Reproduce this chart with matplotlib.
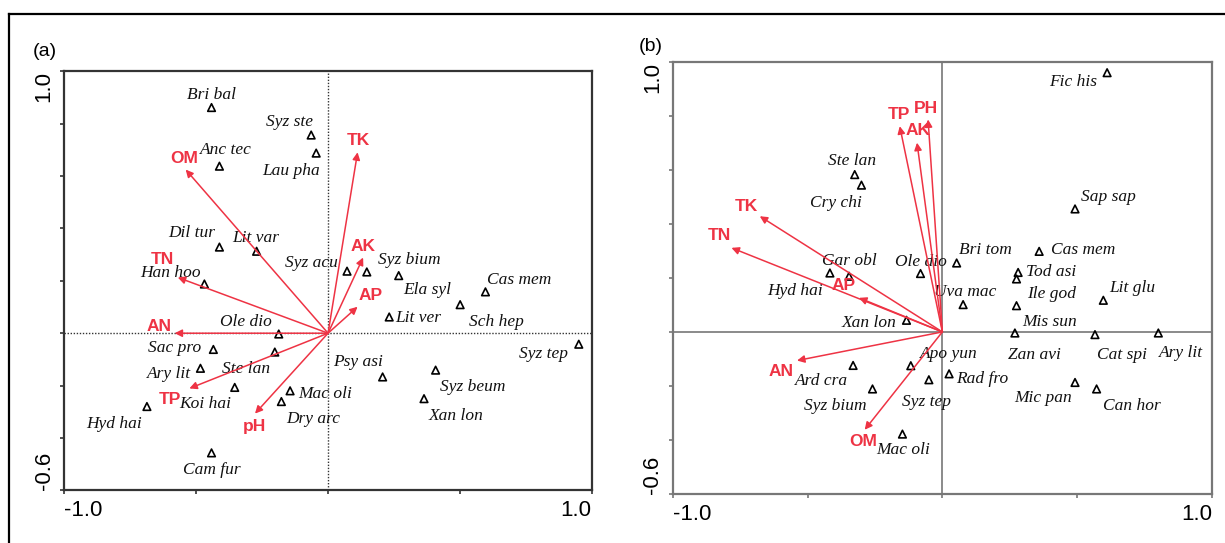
import numpy as np
import matplotlib.pyplot as plt
from matplotlib.lines import Line2D

# ---- panel (a) data ----
spp_a = ['Bri bal', 'Syz ste', 'Lau pha', 'Anc tec', 'Dil tur', 'Lit var', 'Han hoo',
         'Syz acu', 'Syz bium', 'Ela syl', 'Cas mem', 'Sch hep', 'Lit ver', 'Ole dio',
         'Sac pro', 'Ste lan', 'Ary lit', 'Psy asi', 'Syz tep', 'Koi hai', 'Mac oli',
         'Dry arc', 'Syz beum', 'Xan lon', 'Hyd hai', 'Cam fur']
sx_a = [-0.442, -0.064, -0.045, -0.412, -0.412, -0.271, -0.469, 0.072, 0.147, 0.268,
        0.597, 0.501, 0.232, -0.187, -0.435, -0.202, -0.484, 0.207, 0.951, -0.354,
        -0.144, -0.177, 0.408, 0.364, -0.687, -0.442]
sy_a = [0.862, 0.757, 0.688, 0.638, 0.329, 0.313, 0.188, 0.237, 0.234, 0.220,
        0.158, 0.109, 0.062, -0.003, -0.062, -0.072, -0.134, -0.167, -0.042, -0.207,
        -0.220, -0.261, -0.141, -0.250, -0.280, -0.457]
env_a = ['OM', 'TK', 'AK', 'AP', 'TN', 'AN', 'TP', 'pH']
ex_a = [-0.540, 0.112, 0.133, 0.112, -0.570, -0.582, -0.526, -0.277]
ey_a = [0.625, 0.691, 0.289, 0.101, 0.213, 0.0, -0.211, -0.307]

# ---- panel (b) data ----
spp_b = ['Fic his', 'Ste lan', 'Cry chi', 'Sap sap', 'Bri tom', 'Cas mem', 'Ole dio',
         'Gar obl', 'Hyd hai', 'Uva mac', 'Tod asi', 'Ile god', 'Mis sun', 'Zan avi',
         'Lit glu', 'Cat spi', 'Ary lit', 'Mic pan', 'Can hor', 'Rad fro', 'Apo yun',
         'Syz tep', 'Ard cra', 'Syz bium', 'Mac oli', 'Xan lon']
sx_b = [0.611, -0.325, -0.300, 0.492, 0.053, 0.359, -0.081, -0.346, -0.417, 0.077,
        0.281, 0.275, 0.275, 0.269, 0.597, 0.566, 0.801, 0.492, 0.572, 0.025,
        -0.117, -0.050, -0.331, -0.259, -0.148, -0.133]
sy_b = [0.959, 0.582, 0.543, 0.455, 0.255, 0.298, 0.216, 0.206, 0.218, 0.101,
        0.220, 0.196, 0.097, -0.004, 0.117, -0.010, -0.004, -0.187, -0.211, -0.155,
        -0.125, -0.177, -0.124, -0.211, -0.378, 0.043]
env_b = ['TP', 'AK', 'PH', 'TK', 'TN', 'AP', 'AN', 'OM']
ex_b = [-0.158, -0.094, -0.053, -0.677, -0.782, -0.309, -0.539, -0.288]
ey_b = [0.761, 0.700, 0.786, 0.428, 0.311, 0.126, -0.106, -0.362]

# label offsets in pixels (dx right, dy down)
off_spp_a = [(0, -13), (-22, -13), (-25, 18), (6, -16), (-28, -14), (-1, -13), (-34, -11),
             (-36, -8), (42, -12), (28, 14), (34, -12), (36, 17), (29, 1), (-33, -12),
             (-39, -1), (-29, 17), (-31, 6), (-25, -15), (-35, 10), (-30, 17), (35, 3),
             (32, 17), (37, 17), (32, 17), (-33, 17), (0, 17)]
off_env_a = [(-1, -11), (1, -12), (0, -11), (13, -11), (-15, -18), (-16, -7), (-19, 11), (-1, 13)]
off_spp_b = [(-34, 9), (-3, -14), (-26, 18), (33, -12), (29, -13), (44, -1), (0, -12),
             (0, -15), (-35, 18), (2, -13), (33, 0), (35, 15), (33, 16), (20, 22),
             (29, -12), (27, 20), (23, 20), (-32, 16), (35, 17), (33, 5), (38, -12),
             (-2, 22), (-32, 16), (-37, 17), (1, 16), (-37, 3)]
off_env_b = [(-1, -12), (1, -12), (-2, -11), (-13, -10), (-12, -12), (-15, -12), (-16, 11), (-2, 12)]

RED = '#ee3344'
W, H = 1225, 543
fig = plt.figure(figsize=(W / 100, H / 100), dpi=100)


def draw_panel(box, spp, sx, sy, off_s, env, ex, ey, off_e, tag, tagpos, dotted):
    l, r, t, b = box
    ax = fig.add_axes([l / W, 1 - b / H, (r - l) / W, (b - t) / H])
    ax.set_xlim(-1.0, 1.0)
    ax.set_ylim(-0.6, 1.0)
    if dotted:
        ax.axhline(0, color='#333333', lw=1, ls=(0, (1, 1.2)), zorder=1)
        ax.axvline(0, color='#333333', lw=1, ls=(0, (1, 1.2)), zorder=1)
        spcol = '#333333'
    else:
        ax.axhline(0, color='#8a8a8a', lw=1.4, zorder=1)
        ax.axvline(0, color='#8a8a8a', lw=1.4, zorder=1)
        spcol = '#777777'
    for s in ax.spines.values():
        s.set_color(spcol)
        s.set_linewidth(1.6)

    ax.scatter(sx, sy, marker='^', s=30, facecolors='none', edgecolors='black',
               linewidths=1.2, zorder=3)
    for name, x, y, (dx, dy) in zip(spp, sx, sy, off_s):
        ax.annotate(name, (x, y), xytext=(dx, -dy), textcoords='offset pixels',
                    ha='center', va='center', fontsize=12.5, style='italic',
                    family='Liberation Serif', color='#111111', zorder=4)
    for name, x, y, (dx, dy) in zip(env, ex, ey, off_e):
        ax.annotate('', xy=(x, y), xytext=(0, 0),
                    arrowprops=dict(arrowstyle='-|>', color=RED, lw=1.1,
                                    mutation_scale=11, shrinkA=0, shrinkB=0), zorder=5)
        ax.annotate(name, (x, y), xytext=(dx, -dy), textcoords='offset pixels',
                    ha='center', va='center', fontsize=12.5, fontweight='bold',
                    family='Liberation Sans', color=RED, zorder=6)

    xt = [-1.0, -0.5, 0.0, 0.5, 1.0]
    yt = [-0.6, -0.4, -0.2, 0.0, 0.2, 0.4, 0.6, 0.8, 1.0]
    ax.set_xticks(xt)
    ax.set_xticklabels(['-1.0', '', '', '', '1.0'])
    ax.set_yticks(yt)
    ax.set_yticklabels(['-0.6', '', '', '', '', '', '', '', '1.0'], rotation=90)
    ax.tick_params(direction='out', length=3, width=1.2, color=spcol, pad=4,
                   labelsize=16)
    for lab in ax.get_xticklabels() + ax.get_yticklabels():
        lab.set_family('Liberation Sans')
    xl = ax.get_xticklabels()
    xl[0].set_ha('left')
    xl[-1].set_ha('right')
    yl = ax.get_yticklabels()
    yl[0].set_va('bottom')
    yl[-1].set_va('top')

    fig.text(tagpos[0] / W, 1 - tagpos[1] / H, tag, ha='center', va='center',
             fontsize=14, family='Liberation Sans')
    return ax


draw_panel((64.4, 591.7, 71.4, 490.3), spp_a, sx_a, sy_a, off_spp_a,
           env_a, ex_a, ey_a, off_env_a, '(a)', (44.7, 51.7), True)
draw_panel((672.7, 1212, 61.6, 494.1), spp_b, sx_b, sy_b, off_spp_b,
           env_b, ex_b, ey_b, off_env_b, '(b)', (651, 46.7), False)

# outer frame (cropped at right and bottom)
fig.add_artist(Line2D([8.7 / W, 1.0], [1 - 13.8 / H, 1 - 13.8 / H], color='black', lw=1.6,
                      transform=fig.transFigure))
fig.add_artist(Line2D([8.7 / W, 8.7 / W], [0.0, 1 - 13.8 / H], color='black', lw=1.6,
                      transform=fig.transFigure))

fig.savefig('out.png', dpi=100)
